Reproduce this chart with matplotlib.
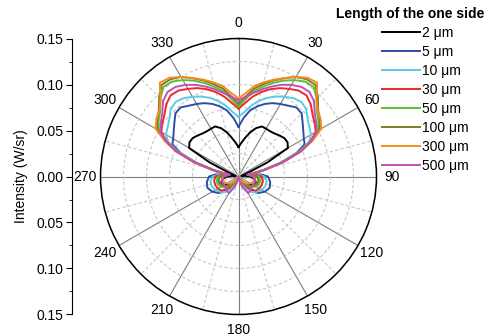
import numpy as np
import matplotlib
matplotlib.use("Agg")
import matplotlib.pyplot as plt
from matplotlib.ticker import FixedLocator

plt.rcParams['font.family'] = ['Liberation Sans', 'DejaVu Sans']
plt.rcParams['font.size'] = 10

# angle (deg, clockwise from top) for one half of the symmetric pattern
angles = [0, 5, 10, 15, 20, 25, 30, 35, 40, 45, 50, 55, 60, 64, 68, 72, 76,
          80, 85, 90, 100, 110, 120, 130, 140, 150, 160, 170, 180]

# intensity (W/sr)
i_2um = [0.032, 0.037, 0.043, 0.050, 0.056, 0.060, 0.060, 0.060, 0.061, 0.063, 0.065, 0.065, 0.062, 0.035, 0.012, 0.006, 0.004,
         0.003, 0.008, 0.013, 0.018, 0.020, 0.018, 0.014, 0.008, 0.004, 0.002, 0.001, 0.0]
i_5um = [0.054, 0.064, 0.073, 0.079, 0.084, 0.088, 0.091, 0.094, 0.098, 0.097, 0.091, 0.086, 0.082, 0.080, 0.068, 0.048, 0.026,
         0.012, 0.025, 0.032, 0.035, 0.036, 0.033, 0.028, 0.018, 0.010, 0.005, 0.002, 0.0]
i_10um = [0.065, 0.070, 0.078, 0.085, 0.091, 0.096, 0.100, 0.104, 0.106, 0.104, 0.098, 0.094, 0.091, 0.085, 0.070, 0.049, 0.026,
          0.012, 0.022, 0.028, 0.031, 0.031, 0.029, 0.026, 0.022, 0.014, 0.006, 0.002, 0.0]
i_30um = [0.074, 0.080, 0.088, 0.095, 0.101, 0.106, 0.110, 0.114, 0.115, 0.111, 0.105, 0.101, 0.097, 0.087, 0.072, 0.050, 0.027,
          0.011, 0.020, 0.025, 0.027, 0.027, 0.026, 0.024, 0.016, 0.008, 0.004, 0.002, 0.0]
i_50um = [0.076, 0.084, 0.094, 0.101, 0.108, 0.115, 0.121, 0.126, 0.127, 0.120, 0.111, 0.106, 0.100, 0.088, 0.072, 0.050, 0.027,
          0.010, 0.017, 0.022, 0.024, 0.024, 0.022, 0.018, 0.012, 0.006, 0.003, 0.001, 0.0]
i_100um = [0.079, 0.087, 0.097, 0.104, 0.111, 0.118, 0.125, 0.129, 0.130, 0.122, 0.113, 0.108, 0.102, 0.089, 0.073, 0.051, 0.028,
           0.010, 0.016, 0.020, 0.022, 0.022, 0.020, 0.016, 0.010, 0.005, 0.003, 0.001, 0.0]
i_300um = [0.085, 0.091, 0.100, 0.106, 0.112, 0.118, 0.125, 0.131, 0.133, 0.120, 0.112, 0.109, 0.104, 0.090, 0.074, 0.052, 0.028,
           0.010, 0.013, 0.016, 0.018, 0.017, 0.015, 0.012, 0.008, 0.004, 0.002, 0.001, 0.0]
i_500um = [0.083, 0.087, 0.092, 0.098, 0.104, 0.110, 0.115, 0.119, 0.120, 0.116, 0.108, 0.103, 0.098, 0.088, 0.073, 0.052, 0.029,
           0.010, 0.014, 0.016, 0.018, 0.019, 0.018, 0.018, 0.020, 0.021, 0.012, 0.004, 0.0]

labels = ["2 μm", "5 μm", "10 μm", "30 μm", "50 μm", "100 μm", "300 μm", "500 μm"]
colors = ["#000000", "#2b4ea6", "#5ccbe0", "#f0262a", "#5cc033", "#7f7d1f", "#f78a22", "#c04fb9"]
series = [i_2um, i_5um, i_10um, i_30um, i_50um, i_100um, i_300um, i_500um]

theta_ticks = list(range(0, 360, 30))
theta_labels = [str(t) for t in theta_ticks]
axis_ticks = [-0.15, -0.10, -0.05, 0.0, 0.05, 0.10, 0.15]
axis_labels = ["0.15", "0.10", "0.05", "0.00", "0.05", "0.10", "0.15"]

fig = plt.figure(figsize=(4.93, 3.36), dpi=100)
ax = fig.add_axes([0.2039, 0.064, 0.5598, 0.8214], projection="polar")
ax.set_theta_zero_location("N")
ax.set_theta_direction(-1)

a = np.array(angles, dtype=float)
full_deg = np.concatenate([a, 360 - a[::-1][1:]])
theta = np.radians(full_deg)
for vals, lab, col in zip(series, labels, colors):
    v = np.array(vals)
    r = np.concatenate([v, v[::-1][1:]])
    ax.plot(theta, r, color=col, lw=1.4, label=lab, zorder=3)

ax.set_ylim(0, 0.15)
ax.set_yticks([0.025, 0.05, 0.075, 0.10, 0.125, 0.15])
ax.set_yticklabels([])
ax.set_thetagrids(theta_ticks, theta_labels)
ax.xaxis.set_minor_locator(FixedLocator(np.radians(np.arange(15, 360, 30))))
ax.xaxis.grid(True, which="major", color="#7f7f7f", lw=0.8, ls="-")
ax.xaxis.grid(True, which="minor", color="#c8c8c8", lw=0.8, ls=(0, (3, 2)))
ax.yaxis.grid(True, color="#c8c8c8", lw=0.8, ls=(0, (3, 2)))
ax.tick_params(axis="x", which="major", pad=1, labelsize=10)
ax.tick_params(axis="x", which="minor", length=0)
ax.spines["polar"].set_linewidth(1.1)
ax.set_axisbelow(True)

# linear intensity scale on the left
ax2 = fig.add_axes([72 / 493, 0.064, 0.0001, 0.8214])
ax2.set_ylim(-0.15, 0.15)
for s in ["top", "right", "bottom"]:
    ax2.spines[s].set_visible(False)
ax2.patch.set_visible(False)
ax2.set_xticks([])
ax2.set_yticks(axis_ticks)
ax2.set_yticklabels(axis_labels)
ax2.yaxis.set_minor_locator(FixedLocator([-0.125, -0.075, -0.025, 0.025, 0.075, 0.125]))
ax2.tick_params(axis="y", which="major", length=4, direction="out", labelsize=10, pad=2)
ax2.tick_params(axis="y", which="minor", length=2.5, direction="out")
ax2.set_ylabel("Intensity (W/sr)", fontsize=10, labelpad=6)

fig.text(410 / 493, 1 - 14 / 336, "Length of the one side", ha="center", va="center",
         fontsize=10, fontweight="bold")
fig.legend(loc="upper left", bbox_to_anchor=(382 / 493, 1 - 26 / 336), frameon=False,
           fontsize=10, handlelength=2.7, handletextpad=0.2, labelspacing=0.36,
           borderpad=0, borderaxespad=0)

fig.savefig("out.png", dpi=100)
